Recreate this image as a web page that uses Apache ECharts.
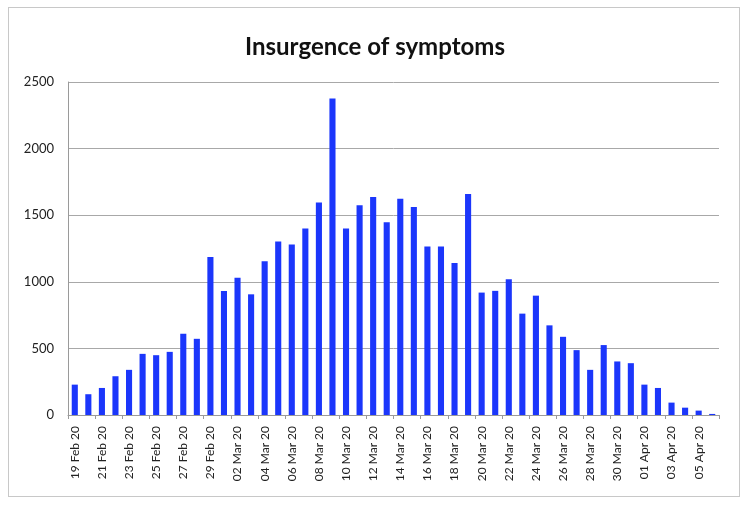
<!DOCTYPE html>
<html>
<head>
<meta charset="utf-8">
<script src="https://cdn.jsdelivr.net/npm/echarts@6/dist/echarts.min.js"></script>
<style>
html,body{margin:0;padding:0;background:#fff;}
#frame{position:absolute;left:8px;top:7px;width:732px;height:490px;border:1px solid #c8c8c8;box-sizing:border-box;}
#chart{position:absolute;left:0;top:0;width:750px;height:507px;}
</style>
</head>
<body>
<div id="frame"></div>
<div id="chart"></div>
<script>
const categories = [
  "19 Feb 20","20 Feb 20","21 Feb 20","22 Feb 20","23 Feb 20","24 Feb 20","25 Feb 20","26 Feb 20",
  "27 Feb 20","28 Feb 20","29 Feb 20","01 Mar 20","02 Mar 20","03 Mar 20","04 Mar 20","05 Mar 20",
  "06 Mar 20","07 Mar 20","08 Mar 20","09 Mar 20","10 Mar 20","11 Mar 20","12 Mar 20","13 Mar 20",
  "14 Mar 20","15 Mar 20","16 Mar 20","17 Mar 20","18 Mar 20","19 Mar 20","20 Mar 20","21 Mar 20",
  "22 Mar 20","23 Mar 20","24 Mar 20","25 Mar 20","26 Mar 20","27 Mar 20","28 Mar 20","29 Mar 20",
  "30 Mar 20","31 Mar 20","01 Apr 20","02 Apr 20","03 Apr 20","04 Apr 20","05 Apr 20","06 Apr 20"
];
const symptoms = [
  228, 156, 203, 291, 339, 459, 449, 474,
  610, 572, 1187, 931, 1030, 906, 1155, 1303,
  1280, 1401, 1596, 2377, 1401, 1574, 1637, 1448,
  1624, 1561, 1265, 1265, 1142, 1659, 919, 932,
  1019, 761, 896, 673, 587, 487, 339, 525,
  402, 389, 228, 203, 93, 55, 33, 8
];
const yTicks = [0, 500, 1000, 1500, 2000, 2500];
const titleText = "Insurgence of symptoms";

const chart = echarts.init(document.getElementById('chart'), null, {renderer:'canvas'});
chart.setOption({
  animation: false,
  backgroundColor: 'transparent',
  title: {
    text: titleText,
    left: 'center',
    top: 30,
    textStyle: {fontFamily: 'Lato', fontWeight: 'bold', fontSize: 24, color: '#111'}
  },
  grid: {left: 68, right: 31, top: 82, bottom: 92},
  xAxis: {
    type: 'category',
    data: categories,
    boundaryGap: true,
    axisLine: {lineStyle: {color: '#9a9a9a', width: 1}},
    axisTick: {show: true, interval: 1, length: 4, lineStyle: {color: '#9a9a9a'}},
    axisLabel: {interval: 1, rotate: 90, margin: 11, fontFamily: 'Lato', fontSize: 12, color: '#222'},
    splitLine: {show: false}
  },
  yAxis: {
    type: 'value',
    min: yTicks[0],
    max: yTicks[yTicks.length - 1],
    interval: yTicks[1] - yTicks[0],
    axisLine: {show: true, lineStyle: {color: '#9a9a9a'}},
    axisTick: {show: false},
    axisLabel: {fontFamily: 'Lato', fontSize: 13, color: '#222', margin: 14, formatter: function (v) { return String(v); }},
    splitLine: {lineStyle: {color: '#a8a8a8', width: 1}}
  },
  series: [{
    type: 'bar',
    data: symptoms,
    barWidth: '45%',
    itemStyle: {color: '#1b36fb'}
  }]
});
</script>
</body>
</html>
